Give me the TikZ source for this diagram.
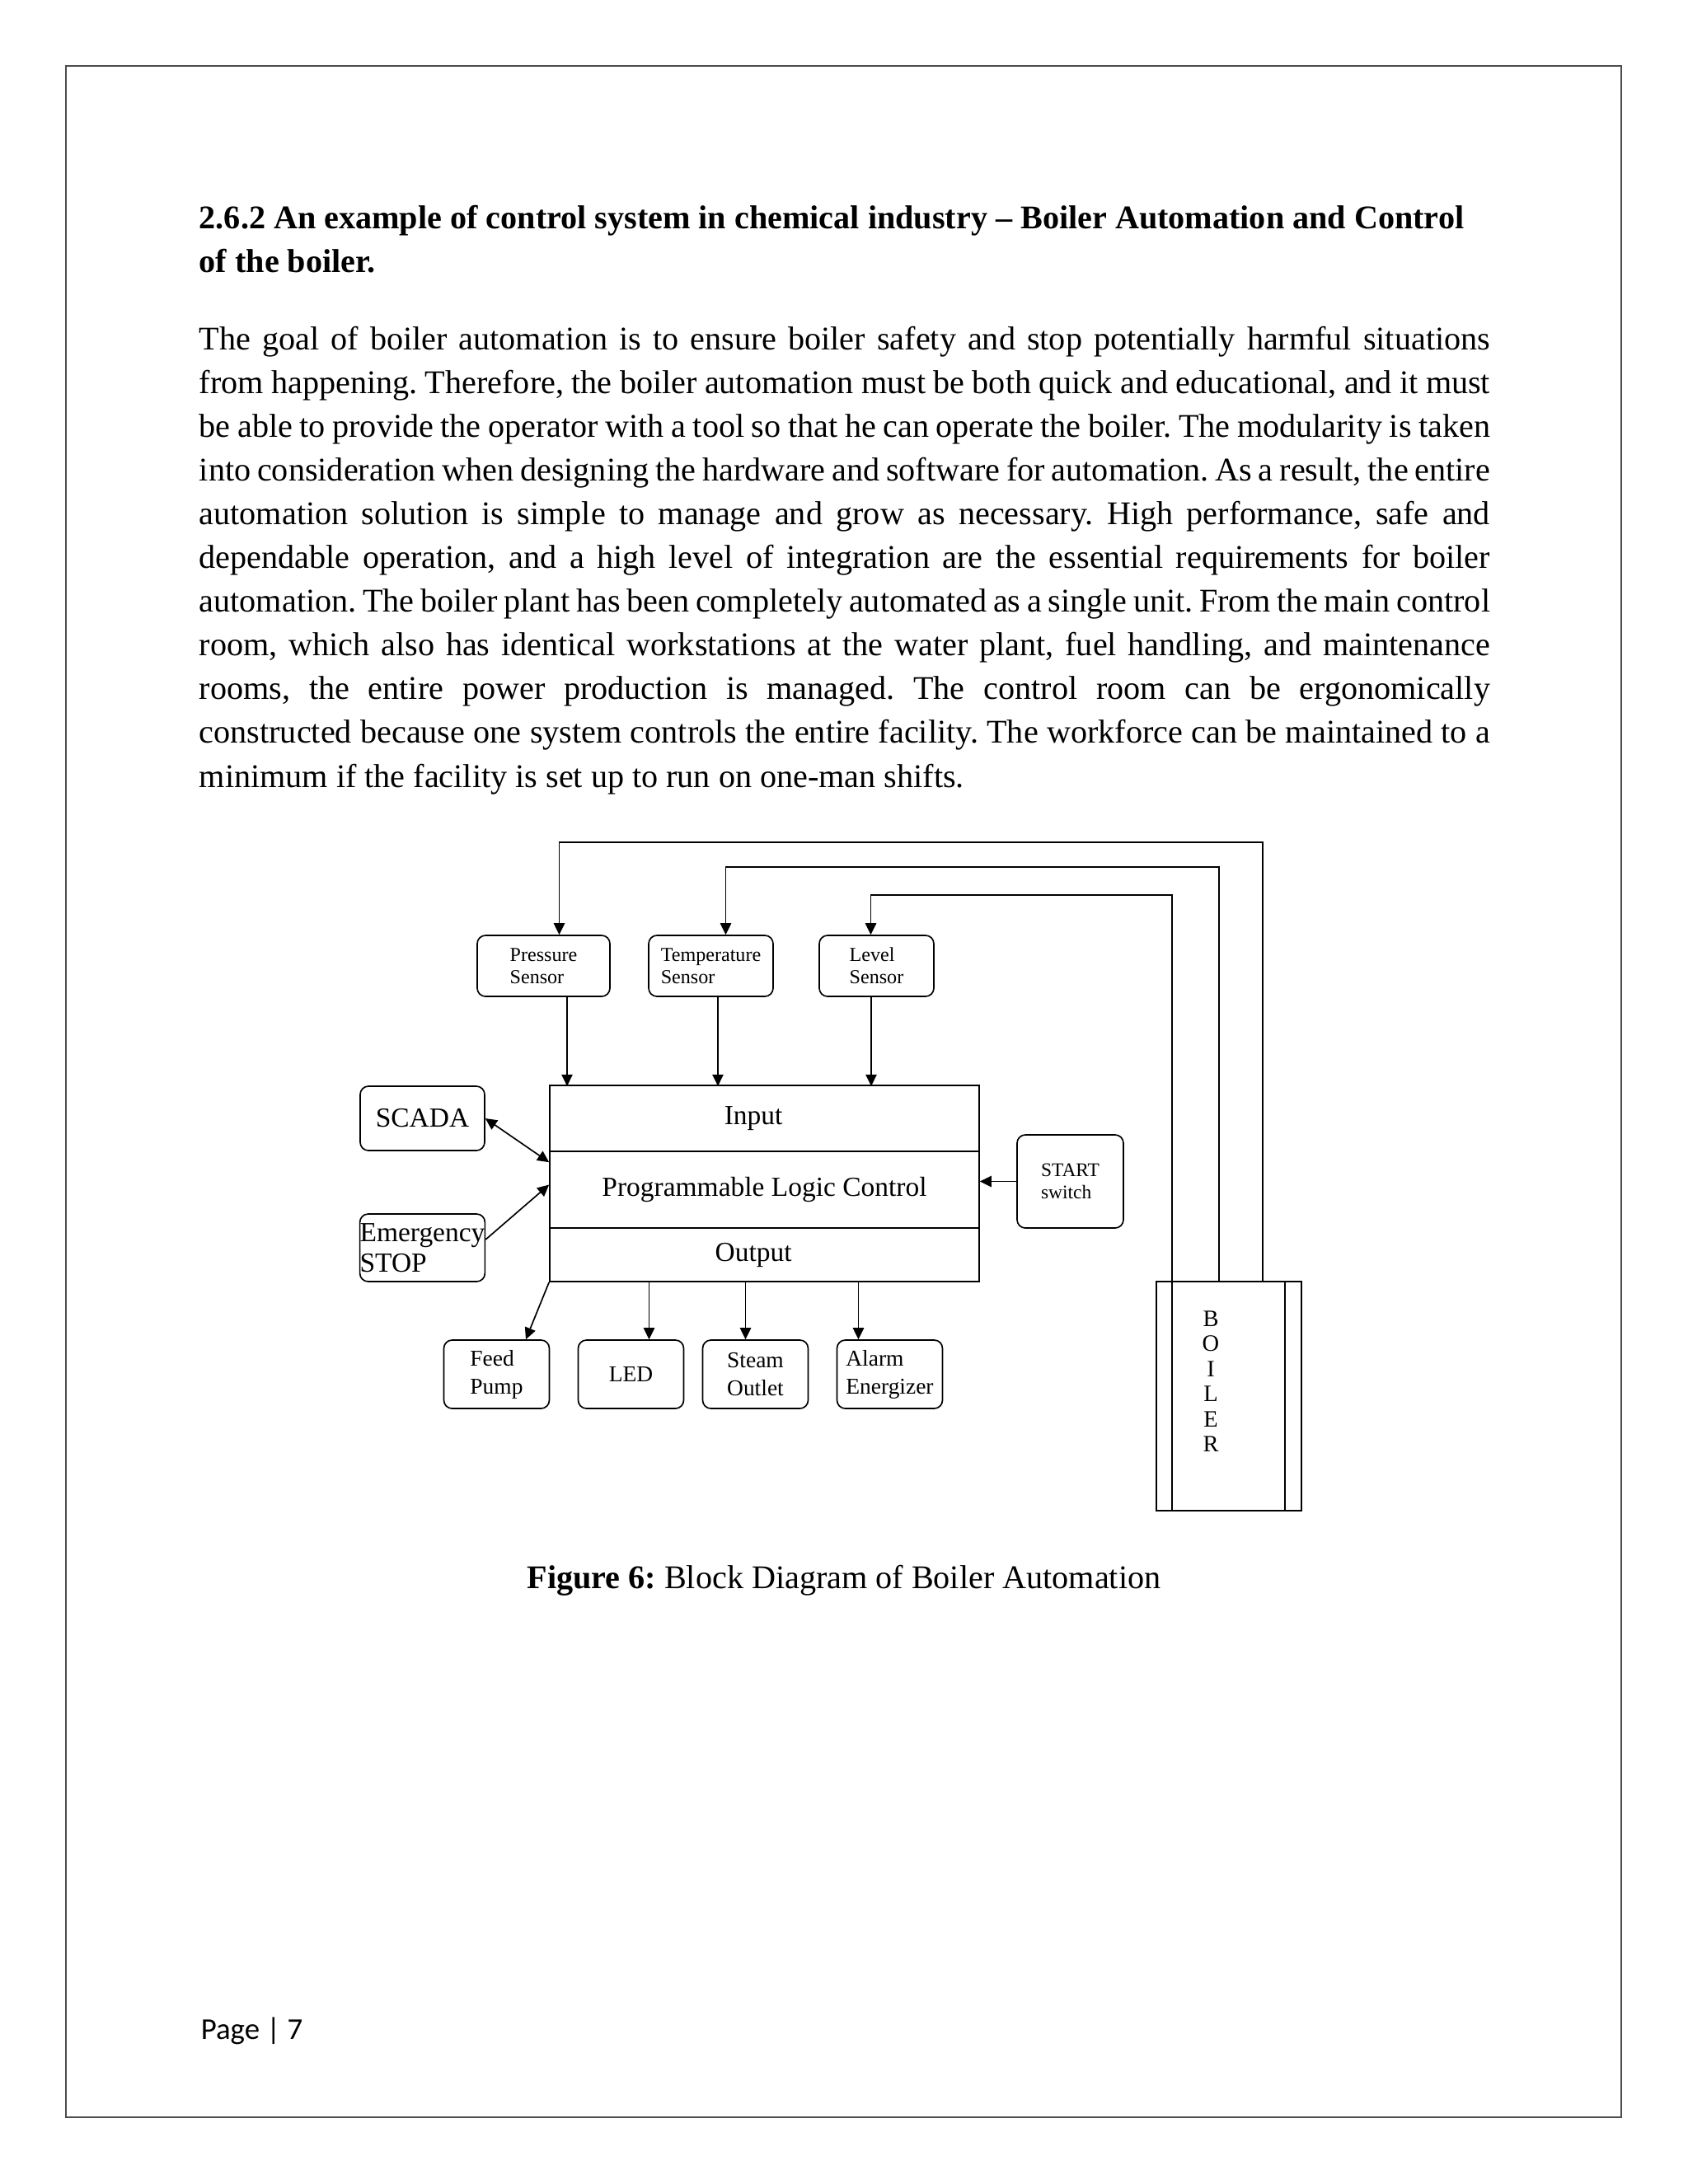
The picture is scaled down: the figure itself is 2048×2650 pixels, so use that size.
\documentclass[tikz,border=0pt]{standalone}
\usepackage{fontspec}
\setmainfont{Liberation Serif}
\newfontfamily\pagefont{Carlito}
\usetikzlibrary{arrows.meta,calc}
\frenchspacing

\newcommand{\bodyfont}{\fontsize{12}{15.87}\selectfont}
\newcommand{\sensfont}{\fontsize{7.2}{8.1}\selectfont}
\newcommand{\plcfont}{\fontsize{10}{11.5}\selectfont}
\newcommand{\stopfont}{\fontsize{10}{11.1}\selectfont}
\newcommand{\boxfont}{\fontsize{8.2}{10.2}\selectfont}
\newcommand{\startfont}{\fontsize{7}{8.1}\selectfont}
\newcommand{\blrfont}{\fontsize{8.5}{9.1}\selectfont}
\newcommand{\bline}[1]{\hbox to\hsize{#1}}
\newcommand{\blast}[1]{\hbox to\hsize{#1\hfil}}

\begin{document}
\begin{tikzpicture}[x=0.29883pt,y=-0.29883pt,>={Triangle[length=4.2pt,width=4pt]},line width=0.5pt,
  sz/.style 2 args={minimum width=#1*0.29883pt,minimum height=#2*0.29883pt},
  rbox/.style={draw,rounded corners=3pt,inner sep=0pt,align=left},
  plcbox/.style={draw,inner sep=0pt,font=\plcfont}]
\fill[white] (0,0) rectangle (2048,2650);
\useasboundingbox (0,0) rectangle (2048,2650);
\draw[black!70] (80,80) rectangle (1967,2569);
% page text
\node[anchor=base west,inner sep=0pt,font=\bfseries\bodyfont] (head) at (241,277) {\vtop{%
  \hbox{2.6.2 An example of control system in chemical industry – Boiler Automation and Control}
  \hbox{of the boiler.}}};
\node[anchor=base west,inner sep=0pt,font=\bodyfont] (body) at (241,424) {\vtop{\hsize=468pt
  \bline{The goal of boiler automation is to ensure boiler safety and stop potentially harmful situations}
  \bline{from happening. Therefore, the boiler automation must be both quick and educational, and it must}
  \bline{be able to provide the operator with a tool so that he can operate the boiler. The modularity is taken}
  \bline{into consideration when designing the hardware and software for automation. As a result, the entire}
  \bline{automation solution is simple to manage and grow as necessary. High performance, safe and}
  \bline{dependable operation, and a high level of integration are the essential requirements for boiler}
  \bline{automation. The boiler plant has been completely automated as a single unit. From the main control}
  \bline{room, which also has identical workstations at the water plant, fuel handling, and maintenance}
  \bline{rooms, the entire power production is managed. The control room can be ergonomically}
  \bline{constructed because one system controls the entire facility. The workforce can be maintained to a}
  \blast{minimum if the facility is set up to run on one-man shifts.}}};
% sensors
\node[rbox,sz={161}{74},font=\sensfont] (ps) at (659.5,1172) {Pressure\\Sensor};
\node[rbox,sz={151}{74},font=\sensfont] (ts) at (862.5,1172) {Temperature\\Sensor};
\node[rbox,sz={139}{74},font=\sensfont] (ls) at (1063.5,1172) {Level\\Sensor};
% plc
\node[plcbox,sz={521}{80}] (inp) at (927.5,1357) {\kern-8pt Input};
\node[plcbox,sz={521}{93}] (plc) at (927.5,1443.5) {Programmable Logic Control};
\node[plcbox,sz={521}{65}] (out) at (927.5,1522.5) {\kern-8pt Output};
\node[rbox,sz={151}{78},font=\plcfont] (sc) at (512.5,1357) {SCADA};
\node[rbox,sz={151}{82},font=\stopfont] (es) at (512.5,1514) {Emergency\\STOP};
\node[rbox,sz={129}{113},font=\startfont] (st) at (1298.5,1433.5) {START\\switch};
% outputs
\node[rbox,sz={128}{83},font=\boxfont] (fp) at (602.5,1667.5) {Feed\\Pump};
\node[rbox,sz={128}{83},font=\boxfont] (led) at (765.5,1667.5) {LED};
\node[rbox,sz={128}{83},font=\boxfont] (so) at (916.5,1667.5) {Steam\\Outlet};
\node[rbox,sz={128}{83},font=\boxfont] (ae) at (1079.5,1667.5) {Alarm\\Energizer};
% boiler
\node[draw,inner sep=0pt,sz={176}{278}] (blr) at (1491,1694) {};
\draw ($(blr.north west)+(19.5,0)$) -- ($(blr.south west)+(19.5,0)$);
\draw ($(blr.north east)+(-21,0)$) -- ($(blr.south east)+(-21,0)$);
\node[align=center,inner sep=0pt,font=\blrfont] (blrtxt) at (1469,1676) {B\\O\\I\\L\\E\\R};
\draw[->] ($(blr.north west)+(130,0)$) -- ++(0,-532) -| ($(ps.north)+(19,0)$);
\draw[->] ($(blr.north west)+(77,0)$) -- ++(0,-502) -| ($(ts.north)+(18,0)$);
\draw[->] ($(blr.north west)+(20,0)$) -- ++(0,-468) -| ($(ls.north)+(-7,0)$);
\draw[->] ($(ps.south)+(28.5,0)$) -- ++(0,108);
\draw[->] ($(ts.south)+(8.5,0)$) -- ++(0,108);
\draw[->] ($(ls.south)+(-6.5,0)$) -- ++(0,108);
\draw[<->] (sc.east) -- ($(plc.north west)+(0,14)$);
\draw[->] ($(es.east)+(0,-10)$) -- ($(plc.west)+(0,-6)$);
\draw[->] (st.west) -- (st.west -| plc.east);
\draw[->] (out.south west) -- ($(fp.north)+(35.5,0)$);
\draw[->] ($(led.north)+(22,-71)$) -- ++(0,71);
\draw[->] ($(so.north)+(-12,-71)$) -- ++(0,71);
\draw[->] ($(ae.north)+(-38,-71)$) -- ++(0,71);
% caption and footer
\node[anchor=base,inner sep=0pt,font=\bodyfont] (cap) at (1024,1927) {\textbf{Figure 6:} Block Diagram of Boiler Automation};
\node[anchor=base west,inner sep=0pt,font=\pagefont\fontsize{11}{13}\selectfont] (pg) at (243,2474) {Page | 7};
\end{tikzpicture}
\end{document}
